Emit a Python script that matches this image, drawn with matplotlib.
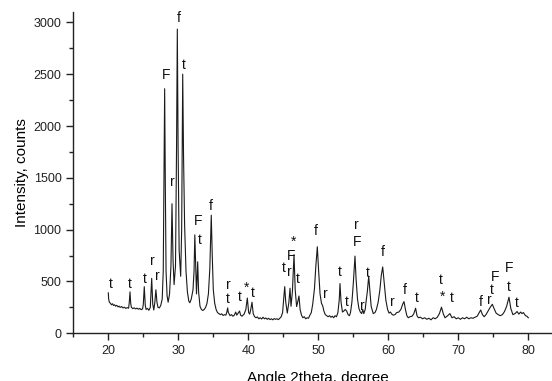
import matplotlib
matplotlib.use("Agg")
import matplotlib.pyplot as plt
from matplotlib.ticker import MultipleLocator

plt.rcParams["font.family"] = ["Liberation Sans", "DejaVu Sans"]

# ── XRD trace (vertices) ──────────────────────────────────────────────────────
two_theta = [
    20.00, 20.05, 20.15, 20.30, 20.45, 20.60, 20.75, 20.90, 21.05, 21.20,
    21.40, 21.55, 21.70, 21.90, 22.10, 22.30, 22.50, 22.70, 22.90, 23.00,
    23.10, 23.20, 23.30, 23.50, 23.70, 23.90, 24.10, 24.30, 24.50, 24.70,
    24.90, 25.00, 25.14, 25.28, 25.40, 25.60, 25.80, 26.00, 26.20, 26.35,
    26.50, 26.65, 26.80, 26.95, 27.10, 27.30, 27.50, 27.70, 27.85, 27.95,
    28.05, 28.15, 28.25, 28.40, 28.55, 28.75, 28.95, 29.10, 29.25, 29.40,
    29.60, 29.75, 29.86, 29.97, 30.12, 30.34, 30.48, 30.63, 30.75, 30.90,
    31.10, 31.30, 31.50, 31.65, 31.85, 32.10, 32.25, 32.36, 32.50, 32.60,
    32.77, 32.90, 33.10, 33.30, 33.50, 33.70, 33.90, 34.10, 34.30, 34.50,
    34.71, 34.85, 35.00, 35.20, 35.40, 35.60, 35.80, 36.00, 36.20, 36.40,
    36.60, 36.80, 36.95, 37.05, 37.15, 37.40, 37.60, 37.80, 38.00, 38.20,
    38.35, 38.55, 38.75, 38.90, 39.10, 39.40, 39.65, 39.86, 40.05, 40.20,
    40.35, 40.53, 40.70, 40.90, 41.10, 41.30, 41.50, 41.70, 41.90, 42.10,
    42.30, 42.50, 42.70, 42.90, 43.10, 43.30, 43.50, 43.70, 43.90, 44.10,
    44.30, 44.50, 44.70, 44.90, 45.05, 45.20, 45.35, 45.57, 45.80, 45.96,
    46.10, 46.30, 46.53, 46.70, 46.90, 47.05, 47.24, 47.40, 47.60, 47.80,
    48.00, 48.20, 48.40, 48.60, 48.80, 49.00, 49.20, 49.45, 49.65, 49.86,
    50.05, 50.25, 50.45, 50.63, 50.80, 51.00, 51.20, 51.40, 51.60, 51.80,
    52.00, 52.20, 52.40, 52.60, 52.80, 53.00, 53.10, 53.25, 53.45, 53.65,
    53.85, 54.05, 54.25, 54.45, 54.60, 54.80, 55.00, 55.24, 55.40, 55.60,
    55.80, 56.00, 56.20, 56.35, 56.50, 56.70, 56.85, 57.00, 57.20, 57.35,
    57.55, 57.85, 58.10, 58.30, 58.55, 58.80, 59.00, 59.20, 59.40, 59.65,
    59.90, 60.10, 60.30, 60.50, 60.70, 60.95, 61.20, 61.50, 61.80, 62.05,
    62.24, 62.45, 62.65, 62.85, 63.10, 63.40, 63.65, 63.90, 64.10, 64.30,
    64.60, 64.90, 65.20, 65.50, 65.80, 66.10, 66.40, 66.70, 67.00, 67.30,
    67.60, 67.85, 68.10, 68.40, 68.80, 69.10, 69.40, 69.70, 70.00, 70.30,
    70.60, 70.90, 71.20, 71.50, 71.80, 72.10, 72.40, 72.70, 73.00, 73.20,
    73.45, 73.70, 74.00, 74.30, 74.55, 74.86, 75.10, 75.40, 75.70, 76.00,
    76.30, 76.60, 76.90, 77.24, 77.50, 77.80, 78.10, 78.40, 78.65, 78.90,
    79.10, 79.30, 79.60, 79.80, 80.00,
]
counts = [
    390, 330, 300, 290, 275, 285, 268, 275, 262, 270,
    255, 262, 250, 258, 245, 252, 240, 248, 242, 300,
    400, 290, 250, 238, 246, 235, 243, 232, 240, 228,
    236, 280, 450, 270, 230, 240, 222, 250, 530, 280,
    225, 300, 420, 300, 250, 245, 270, 330, 600, 1500,
    2360, 1400, 600, 360, 300, 380, 650, 1250, 700, 470,
    650, 1800, 2935, 1800, 800, 550, 1000, 2500, 1700, 1050,
    600, 400, 310, 295, 330, 420, 600, 950, 600, 380,
    690, 400, 260, 230, 220, 230, 250, 290, 380, 620,
    1140, 750, 420, 290, 230, 200, 190, 180, 188, 172,
    180, 175, 210, 245, 200, 170, 180, 165, 175, 205,
    175, 195, 215, 175, 165, 185, 230, 340, 200, 185,
    230, 300, 190, 160, 150, 158, 140, 150, 138, 155,
    140, 148, 135, 145, 132, 140, 130, 142, 135, 140,
    132, 145, 160, 200, 320, 450, 300, 195, 300, 435,
    260, 400, 760, 420, 258, 300, 360, 230, 175, 150,
    160, 140, 150, 145, 175, 200, 280, 430, 650, 835,
    600, 380, 290, 265, 215, 180, 170, 160, 170, 155,
    165, 150, 170, 160, 200, 330, 480, 300, 205, 215,
    230, 215, 180, 170, 200, 300, 480, 745, 520, 330,
    240, 205, 190, 230, 190, 230, 320, 400, 550, 420,
    260, 190, 200, 230, 300, 420, 560, 640, 500, 320,
    230, 195, 205, 185, 175, 180, 200, 205, 230, 280,
    306, 230, 170, 150, 160, 165, 190, 242, 170, 150,
    155, 140, 150, 135, 145, 130, 150, 140, 155, 190,
    252, 190, 150, 165, 190, 150, 160, 140, 150, 135,
    150, 140, 155, 140, 150, 145, 155, 165, 200, 225,
    180, 160, 185, 220, 250, 280, 240, 195, 180, 170,
    180, 210, 260, 348, 240, 180, 190, 210, 185, 205,
    190, 200, 170, 165, 150,
]

# ── Phase labels above the peaks ──────────────────────────────────────────────
label_text = ["t", "t", "t", "r", "r", "F", "r", "f", "t", "F", "t", "f",
              "r", "t", "t", "*", "t", "t", "r", "F", "*", "t",
              "f", "r", "t", "t", "r", "F", "r", "t", "f", "r", "f", "t",
              "t", "*", "t", "f", "r", "t", "F", "F", "t", "t"]
label_x = [20.4, 23.0, 25.2, 26.3, 27.0, 28.3, 29.2, 30.0, 30.8, 32.9, 33.0, 34.6,
           37.1, 37.0, 38.8, 39.8, 40.6, 45.05, 45.86, 46.1, 46.43, 47.05,
           49.7, 51.0, 53.1, 54.05, 55.5, 55.55, 56.3, 57.1, 59.2, 60.6, 62.4, 64.0,
           67.5, 67.7, 69.0, 73.2, 74.4, 74.8, 75.3, 77.3, 77.15, 78.4]
label_y = [477, 477, 522, 700, 555, 2490, 1458, 3039, 2587, 1087, 903, 1232,
           467, 335, 354, 440, 393, 629, 596, 748, 880, 522,
           983, 377, 587, 306, 1041, 880, 264, 580, 784, 306, 419, 345,
           516, 349, 339, 306, 322, 415, 545, 629, 451, 296]

# ── Plot ──────────────────────────────────────────────────────────────────────
W, H = 552, 381
fig = plt.figure(figsize=(W / 100, H / 100), dpi=100)
ax = fig.add_axes([73.3 / W, 47.7 / H, 490 / W, 321.3 / H])

ax.plot(two_theta, counts, color="#1a1a1a", linewidth=0.8)

for t, x, y in zip(label_text, label_x, label_y):
    ax.text(x, y, t, ha="center", va="center", fontsize=10, color="#111111")

ax.set_xlim(15, 85)
ax.set_ylim(0, 3100)
ax.xaxis.set_major_locator(MultipleLocator(10))
ax.xaxis.set_minor_locator(MultipleLocator(5))
ax.yaxis.set_major_locator(MultipleLocator(500))
ax.yaxis.set_minor_locator(MultipleLocator(250))

for side in ("top", "right"):
    ax.spines[side].set_visible(False)
for side in ("left", "bottom"):
    ax.spines[side].set_linewidth(1.0)
    ax.spines[side].set_color("#222222")

ax.tick_params(which="major", direction="out", length=5, width=1.0,
               labelsize=9, colors="#222222")
ax.tick_params(which="minor", direction="out", length=3, width=1.0,
               colors="#222222")

ax.set_xlabel("Angle 2theta, degree", fontsize=11, labelpad=10)
ax.set_ylabel("Intensity, counts", fontsize=11, labelpad=3)

fig.savefig("out.png", dpi=100)
